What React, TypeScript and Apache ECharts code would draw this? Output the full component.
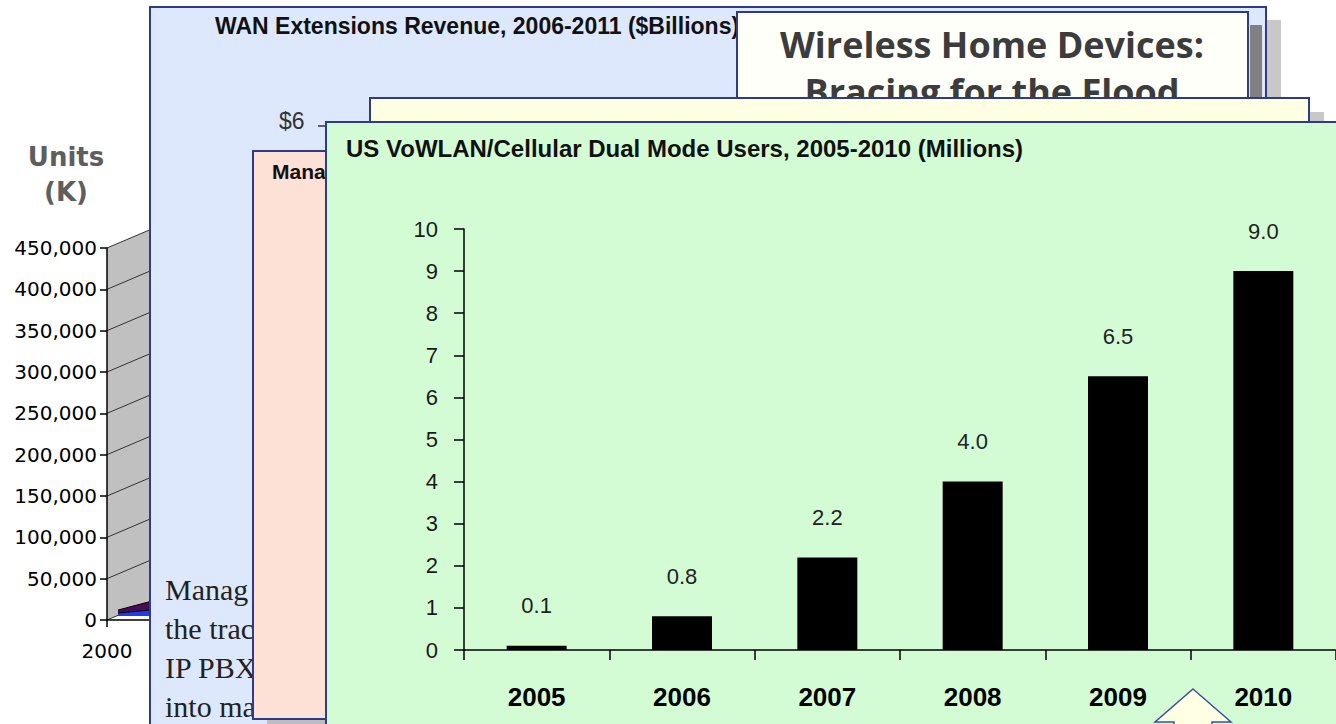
import React, { useEffect, useRef } from 'react';
import * as echarts from 'echarts';

// ---- Main chart data ----
const mainTitle = 'US VoWLAN/Cellular Dual Mode Users, 2005-2010 (Millions)';
const mainCategories = ['2005', '2006', '2007', '2008', '2009', '2010'];
const mainValues = [0.1, 0.8, 2.2, 4.0, 6.5, 9.0];
const mainYMin = 0;
const mainYMax = 10;
const mainYInterval = 1;

// ---- Background (partly hidden) chart: Units (K) ----
const leftAxisTitle = ['Units', '(K)'];
const leftCategories = ['2000', '2001'];
const leftYMin = 0;
const leftYMax = 450000;
const leftYInterval = 50000;
const leftTickValues = [0, 50000, 100000, 150000, 200000, 250000, 300000, 350000, 400000, 450000];
const leftSeriesBlue = [3600, 11000];
const leftSeriesPurple = [3600, 17000];

// ---- Other overlapping slides' texts ----
const wanTitle = 'WAN Extensions Revenue, 2006-2011 ($Billions)';
const wanTickLabel = '$6';
const wirelessLines = ['Wireless Home Devices:', 'Bracing for the Flood'];
const pinkTitle = 'Mana';
const serifLines = ['Manag', 'the trac', 'IP PBX', 'into ma'];

const NAVY = '#2E3B8C';
const SANS = '"Liberation Sans", Arial, Helvetica, sans-serif';
const WIDE = '"DejaVu Sans", Verdana, sans-serif';

export default function App() {
  const ref = useRef<HTMLDivElement>(null);

  useEffect(() => {
    if (!ref.current) return;
    const chart = echarts.init(ref.current, undefined, { renderer: 'svg' });

    const DX = 80;
    const DY = -34;

    const option: any = {
      animation: false,
      backgroundColor: '#ffffff',
      title: [
        {
          text: mainTitle,
          left: 341,
          top: 131,
          z: 32,
          textStyle: { fontFamily: SANS, fontWeight: 'bold', fontSize: 24, color: '#111' },
        },
      ],
      grid: [
        { left: 464, top: 229, width: 874, height: 421, show: false },
        { left: 107, top: 248, width: 65, height: 372, show: false },
        { left: 118, top: 244, width: 65, height: 372, show: false },
      ],
      xAxis: [
        {
          type: 'category',
          gridIndex: 0,
          data: mainCategories,
          boundaryGap: true,
          z: 30,
          axisLine: { show: true, lineStyle: { color: '#000', width: 1.5 } },
          axisTick: { show: true, length: 10, interval: 0, lineStyle: { color: '#000', width: 1.5 } },
          axisLabel: { fontFamily: SANS, fontWeight: 'bold', fontSize: 26, color: '#000', margin: 34, interval: 0 },
          splitLine: { show: false },
        },
        {
          type: 'category',
          gridIndex: 1,
          data: leftCategories,
          boundaryGap: false,
          z: 3,
          axisLine: { show: true, lineStyle: { color: '#000', width: 1.5 } },
          axisTick: { show: true, length: 7, lineStyle: { color: '#000', width: 1.5 } },
          axisLabel: {
            fontFamily: WIDE,
            fontSize: 20,
            color: '#000',
            margin: 21,
            interval: (i: number) => i === 0,
          },
          splitLine: { show: false },
        },
        {
          type: 'category',
          gridIndex: 2,
          data: leftCategories,
          boundaryGap: false,
          show: false,
        },
      ],
      yAxis: [
        {
          type: 'value',
          gridIndex: 0,
          min: mainYMin,
          max: mainYMax,
          interval: mainYInterval,
          z: 30,
          axisLine: { show: true, lineStyle: { color: '#000', width: 1.5 } },
          axisTick: { show: true, length: 10, lineStyle: { color: '#000', width: 1.5 } },
          axisLabel: { fontFamily: SANS, fontSize: 22, color: '#1a1a1a', margin: 26 },
          splitLine: { show: false },
        },
        {
          type: 'value',
          gridIndex: 1,
          min: leftYMin,
          max: leftYMax,
          interval: leftYInterval,
          z: 3,
          axisLine: { show: true, lineStyle: { color: '#000', width: 1.5 } },
          axisTick: { show: true, length: 7, lineStyle: { color: '#000', width: 1.5 } },
          axisLabel: {
            fontFamily: WIDE,
            fontSize: 20,
            color: '#000',
            margin: 10,
            formatter: (v: number) => v.toLocaleString('en-US'),
          },
          splitLine: { show: false },
        },
        {
          type: 'value',
          gridIndex: 2,
          min: leftYMin,
          max: leftYMax,
          show: false,
        },
      ],
      series: [
        {
          type: 'custom',
          xAxisIndex: 1,
          yAxisIndex: 1,
          z: 1,
          silent: true,
          data: leftTickValues.map((v) => [0, v]),
          renderItem: (params: any, api: any) => {
            const v = api.value(1);
            const p = api.coord([0, v]);
            const children: any[] = [];
            if (params.dataIndex === 0) {
              const t = api.coord([0, leftYMax]);
              children.push({
                type: 'polygon',
                shape: { points: [[p[0], p[1]], [t[0], t[1]], [t[0] + DX, t[1] + DY], [p[0] + DX, p[1] + DY]] },
                style: { fill: '#C0C0C0' },
              });
            }
            children.push({
              type: 'line',
              shape: { x1: p[0], y1: p[1], x2: p[0] + DX, y2: p[1] + DY },
              style: { stroke: '#333', lineWidth: 1 },
            });
            return { type: 'group', children };
          },
        },
        {
          type: 'line',
          xAxisIndex: 2,
          yAxisIndex: 2,
          z: 2,
          stack: 'units',
          data: leftSeriesBlue,
          symbol: 'none',
          lineStyle: { color: '#000', width: 1 },
          areaStyle: { color: '#1F3BEA', opacity: 1 },
        },
        {
          type: 'line',
          xAxisIndex: 2,
          yAxisIndex: 2,
          z: 2,
          stack: 'units',
          data: leftSeriesPurple,
          symbol: 'none',
          lineStyle: { color: '#000', width: 1 },
          areaStyle: { color: '#4A0A55', opacity: 1 },
        },
        {
          type: 'bar',
          xAxisIndex: 0,
          yAxisIndex: 0,
          z: 31,
          data: mainValues,
          barWidth: 60,
          itemStyle: { color: '#000' },
          label: {
            show: true,
            position: 'top',
            distance: 29,
            fontFamily: SANS,
            fontSize: 22,
            color: '#222',
            formatter: (p: any) => Number(p.value).toFixed(1),
          },
        },
      ],
      graphic: {
        elements: [
          // Units (K) axis title of background chart
          {
            type: 'text', z: 4, silent: true,
            style: { text: leftAxisTitle[0], x: 66, y: 157, align: 'center', verticalAlign: 'middle', font: 'bold 26px ' + WIDE, fill: '#5E5E5E' },
          },
          {
            type: 'text', z: 4, silent: true,
            style: { text: leftAxisTitle[1], x: 66, y: 192, align: 'center', verticalAlign: 'middle', font: 'bold 26px ' + WIDE, fill: '#5E5E5E' },
          },
          // right shadow of blue slide
          { type: 'rect', z: 9, silent: true, shape: { x: 1267, y: 20, width: 14, height: 80 }, style: { fill: '#C8C8C8' } },
          // blue slide
          { type: 'rect', z: 10, silent: true, shape: { x: 150, y: 7, width: 1116, height: 740 }, style: { fill: '#DDE8FC', stroke: NAVY, lineWidth: 2 } },
          {
            type: 'text', z: 11, silent: true,
            style: { text: wanTitle, x: 215, y: 26, align: 'left', verticalAlign: 'middle', font: 'bold 23px ' + SANS, fill: '#111' },
          },
          {
            type: 'text', z: 11, silent: true,
            style: { text: wanTickLabel, x: 279, y: 121, align: 'left', verticalAlign: 'middle', font: '23px ' + SANS, fill: '#333' },
          },
          { type: 'line', z: 11, silent: true, shape: { x1: 318, y1: 126, x2: 330, y2: 126 }, style: { stroke: '#333', lineWidth: 1.5 } },
          ...serifLines.map((s, i) => ({
            type: 'text', z: 11, silent: true,
            style: { text: s, x: 165, y: 589 + i * 39, align: 'left', verticalAlign: 'middle', font: '30px "Liberation Serif", "Times New Roman", serif', fill: '#222' },
          })),
          // dark strip at right of the wireless box
          { type: 'rect', z: 11, silent: true, shape: { x: 1250, y: 25, width: 12, height: 75 }, style: { fill: '#808080' } },
          // wireless slide box
          { type: 'rect', z: 12, silent: true, shape: { x: 737, y: 12, width: 511, height: 110 }, style: { fill: '#FFFFFA', stroke: NAVY, lineWidth: 2 } },
          {
            type: 'text', z: 13, silent: true,
            style: { text: wirelessLines[0], x: 992, y: 44, align: 'center', verticalAlign: 'middle', font: 'bold 36px "Open Sans", "Noto Sans", sans-serif', fill: '#3C3C3C' },
          },
          {
            type: 'text', z: 13, silent: true,
            style: { text: wirelessLines[1], x: 992, y: 91, align: 'center', verticalAlign: 'middle', font: 'bold 36px "Open Sans", "Noto Sans", sans-serif', fill: '#3C3C3C' },
          },
          // pink slide
          { type: 'rect', z: 12, silent: true, shape: { x: 267, y: 719, width: 70, height: 12 }, style: { fill: '#BDBDBD' } },
          { type: 'rect', z: 13, silent: true, shape: { x: 253, y: 151, width: 90, height: 568 }, style: { fill: '#FDE0D6', stroke: NAVY, lineWidth: 2 } },
          {
            type: 'text', z: 14, silent: true,
            style: { text: pinkTitle, x: 272, y: 171, align: 'left', verticalAlign: 'middle', font: 'bold 21px ' + SANS, fill: '#111' },
          },
          // yellow slide
          { type: 'rect', z: 14, silent: true, shape: { x: 1310, y: 112, width: 14, height: 12 }, style: { fill: '#C8C8C8' } },
          { type: 'rect', z: 15, silent: true, shape: { x: 370, y: 98, width: 939, height: 40 }, style: { fill: '#FFFFE3', stroke: NAVY, lineWidth: 2 } },
          // green slide (main chart background)
          { type: 'rect', z: 20, silent: true, shape: { x: 326, y: 122, width: 1030, height: 620 }, style: { fill: '#D4FCD4', stroke: NAVY, lineWidth: 2 } },
          // arrow at bottom
          {
            type: 'polygon', z: 40, silent: true,
            shape: { points: [[1193, 689], [1231, 722], [1212, 722], [1212, 740], [1174, 740], [1174, 722], [1155, 722]] },
            style: { fill: '#FFFFE3', stroke: '#3B4FA0', lineWidth: 1.5 },
          },
        ],
      },
    };

    chart.setOption(option);
    return () => {
      chart.dispose();
    };
  }, []);

  return (
    <div
      ref={ref}
      style={{ position: 'fixed', left: 0, top: 0, width: 1336, height: 724 }}
    />
  );
}
